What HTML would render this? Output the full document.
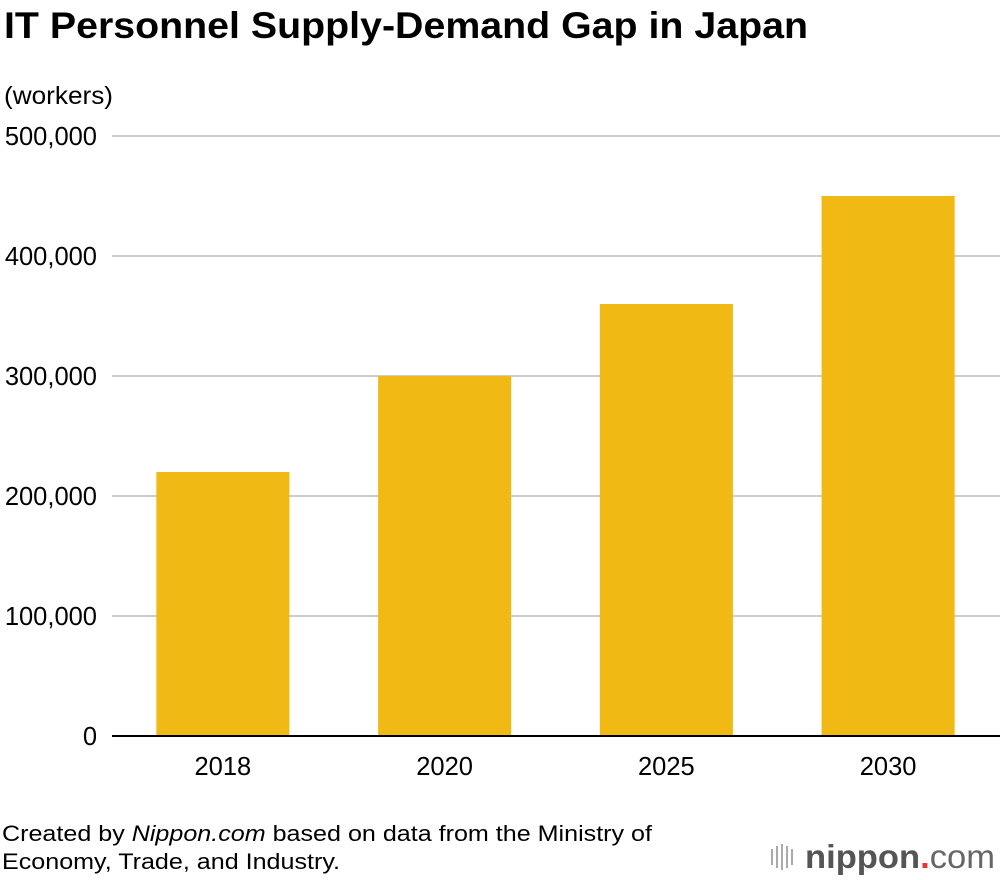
<!DOCTYPE html>
<html><head><meta charset="utf-8"><style>
body{margin:0;background:#fff;font-family:"Liberation Sans",sans-serif;}
#wrap{position:relative;width:1000px;height:880px;overflow:hidden;}
</style></head><body><div id="wrap">
<svg id="svg" width="1000" height="880" xmlns="http://www.w3.org/2000/svg">
<text x="4" y="38" font-size="37" font-weight="bold" fill="#000" textLength="804" lengthAdjust="spacingAndGlyphs">IT Personnel Supply-Demand Gap in Japan</text>
<text x="4" y="104" font-size="25" fill="#000" textLength="109" lengthAdjust="spacingAndGlyphs">(workers)</text>
<g id="grid"></g><g id="bars"></g><g id="xl"></g>
<text x="2" y="841" font-size="22" fill="#000" textLength="650" lengthAdjust="spacingAndGlyphs">Created by <tspan font-style="italic">Nippon.com</tspan> based on data from the Ministry of</text>
<text x="2" y="869" font-size="22" fill="#000" textLength="338" lengthAdjust="spacingAndGlyphs">Economy, Trade, and Industry.</text>
<g>
<g fill="#aaa"><rect x="771" y="849" width="2" height="16"/><rect x="776" y="846" width="2" height="22"/><rect x="781" y="844" width="2" height="26"/><rect x="786" y="846" width="2" height="22"/><rect x="791" y="849" width="2" height="16"/></g>
<text x="805" y="868" font-size="33" font-weight="bold" fill="#555" textLength="190" lengthAdjust="spacingAndGlyphs">nippon<tspan fill="#e33">.</tspan><tspan font-weight="normal" fill="#666">com</tspan></text>
</g>
</svg>
<script>
const categories=["2018","2020","2025","2030"];
const values=[220000,300000,360000,450000];
const ticks=[0,100000,200000,300000,400000,500000];
const tickLabels=["0","100,000","200,000","300,000","400,000","500,000"];
const NS="http://www.w3.org/2000/svg";
const x0=112,x1=999,y0=736,yTop=136,max=500000;
const y=v=>y0-(v/max)*(y0-yTop);
const band=(x1-x0)/categories.length;
const xc=i=>x0+band*(i+0.5);
const bw=band*0.6;
function mk(t,a,p){const e=document.createElementNS(NS,t);for(const k in a)e.setAttribute(k,a[k]);p.appendChild(e);return e;}
const g=document.getElementById("grid");
ticks.forEach((t,i)=>{
 if(i>0){const l=mk("line",{x1:x0,x2:1000,y1:y(t),y2:y(t),stroke:"#ccc","stroke-width":2},g);
 
 }
 const tx=mk("text",{x:97,y:y(t)+9,"font-size":25.5,"text-anchor":"end",fill:"#000"},g);
 tx.textContent=tickLabels[i];
 
 
});
const b=document.getElementById("bars");
values.forEach((v,i)=>{
 const r=mk("rect",{x:xc(i)-bw/2,y:y(v),width:bw,height:y0-y(v),fill:"#f1b913"},b);
 
 
});
const ax=mk("line",{x1:x0,x2:1000,y1:y0,y2:y0,stroke:"#000","stroke-width":2},b);


const xl=document.getElementById("xl");
categories.forEach((c,i)=>{
 const t=mk("text",{x:xc(i),y:775,"font-size":25.5,"text-anchor":"middle",fill:"#000"},xl);
 t.textContent=c;
 
 
});
</script></div></body></html>
